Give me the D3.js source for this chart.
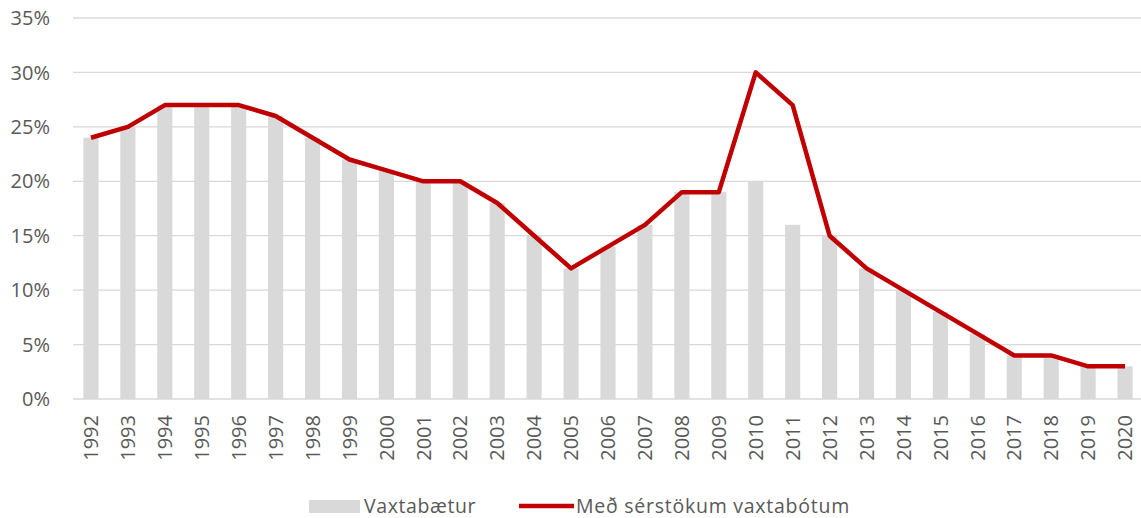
<!DOCTYPE html>
<html>
<head>
<meta charset="utf-8">
<script src="https://cdn.jsdelivr.net/npm/d3@7"></script>
<style>
  body { margin: 0; background: #fff; font-family: "Open Sans", "Noto Sans", sans-serif; }
  svg text { fill: #595959; }
</style>
</head>
<body>
<div id="chart"></div>
<script>
// Chart data
const years = ['1992','1993','1994','1995','1996','1997','1998','1999','2000','2001','2002','2003','2004','2005','2006','2007','2008','2009','2010','2011','2012','2013','2014','2015','2016','2017','2018','2019','2020'];
const vaxtabaetur = [24,25,27,27,27,26,24,22,21,20,20,18,15,12,14,16,19,19,20,16,15,12,10,8,6,4,4,3,3];
const serstokum = [24,25,27,27,27,26,24,22,21,20,20,18,15,12,14,16,19,19,30,27,15,12,10,8,6,4,4,3,3];
const yTicks = [0,5,10,15,20,25,30,35];
const seriesNames = ['Vaxtabætur', 'Með sérstökum vaxtabótum'];

const width = 1141, height = 518;
const svg = d3.select('#chart').append('svg')
    .attr('width', width)
    .attr('height', height);

const x = d3.scaleBand()
    .domain(years)
    .range([72.5, 1143.5])
    .paddingInner(0.59)
    .paddingOuter(0.295);

const y = d3.scaleLinear()
    .domain([0, 35])
    .range([399, 18]);

// Gridlines
svg.append('g')
    .selectAll('line')
    .data(yTicks)
    .join('line')
    .attr('x1', 73)
    .attr('x2', width)
    .attr('y1', d => y(d))
    .attr('y2', d => y(d))
    .attr('stroke', '#d9d9d9')
    .attr('stroke-width', 1.3);

// Y labels
svg.append('g')
    .selectAll('text')
    .data(yTicks)
    .join('text')
    .attr('x', 50)
    .attr('y', d => y(d))
    .attr('dy', '0.36em')
    .attr('text-anchor', 'end')
    .style('font-size', '20px')
    .text(d => d + '%');

// Bars
svg.append('g')
    .selectAll('rect')
    .data(vaxtabaetur)
    .join('rect')
    .attr('x', (d, i) => x(years[i]))
    .attr('y', d => y(d))
    .attr('width', x.bandwidth())
    .attr('height', d => y(0) - y(d))
    .attr('fill', '#d9d9d9');

// Line
const line = d3.line()
    .x((d, i) => x(years[i]) + x.bandwidth() / 2)
    .y(d => y(d));

svg.append('path')
    .datum(serstokum)
    .attr('d', line)
    .attr('fill', 'none')
    .attr('stroke', '#c00000')
    .attr('stroke-width', 4.5)
    .attr('stroke-linejoin', 'round');

// X labels (rotated)
svg.append('g')
    .selectAll('text')
    .data(years)
    .join('text')
    .attr('transform', d => `translate(${x(d) + x.bandwidth() / 2},415) rotate(-90)`)
    .attr('text-anchor', 'end')
    .attr('dy', '0.36em')
    .style('font-size', '20px')
    .text(d => d);

// Legend
const legend = svg.append('g');
legend.append('rect')
    .attr('x', 309).attr('y', 500)
    .attr('width', 51).attr('height', 13)
    .attr('fill', '#d9d9d9');
legend.append('text')
    .attr('x', 364).attr('y', 513)
    .style('font-size', '19.5px')
    .style('letter-spacing', '0.6px')
    .text(seriesNames[0]);
legend.append('line')
    .attr('x1', 519).attr('x2', 574)
    .attr('y1', 506).attr('y2', 506)
    .attr('stroke', '#c00000')
    .attr('stroke-width', 4.5);
legend.append('text')
    .attr('x', 576).attr('y', 513)
    .style('font-size', '19.5px')
    .style('letter-spacing', '0.75px')
    .text(seriesNames[1]);
</script>
</body>
</html>
